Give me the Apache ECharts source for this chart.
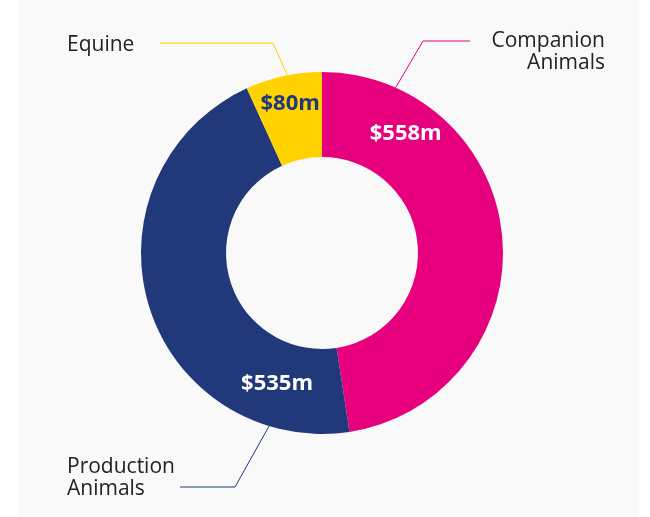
<!DOCTYPE html>
<html>
<head>
<meta charset="utf-8">
<script src="https://cdn.jsdelivr.net/npm/echarts@6/dist/echarts.min.js"></script>
<style>
  html, body { margin: 0; padding: 0; background: #fff; }
  #chart { width: 650px; height: 517px; }
</style>
</head>
<body>
<div id="chart"></div>
<script>
// segment names, values ($m) and colours
const names = ['Companion\nAnimals', 'Production\nAnimals', 'Equine']
const values = [558, 535, 80]
const colors = ['#e6007e', '#21387a', '#ffd200']
const valueLabelColors = ['#ffffff', '#ffffff', '#21387a']

const center = [322, 253]
const innerR = 96
const outerR = 181

// value label spots inside the ring: angle (deg clockwise from top) and radius
const valueSpots = [
  { angle: 35, r: 146 },
  { angle: 199, r: 138 },
  { angle: -12, r: 153 }
]

// where each callout sits: text anchor, elbow, and angle on the ring
const callouts = [
  { x: 605, y: 52, align: 'right', elbow: [[470, 41], [423, 41]], angle: 24 },
  { x: 67, y: 478, align: 'left', elbow: [[180, 487], [235, 487]], angle: 197 },
  { x: 67, y: 45, align: 'left', elbow: [[160, 43], [273, 43]], angle: -11 }
]

const polar = (deg, r) => {
  const a = deg * Math.PI / 180
  return [center[0] + r * Math.sin(a), center[1] - r * Math.cos(a)]
}

const chart = echarts.init(document.getElementById('chart'))

const pieData = names.map((n, i) => ({
  name: n,
  value: values[i],
  itemStyle: { color: colors[i] }
}))

chart.setOption({
  animation: false,
  graphic: [{
    type: 'rect',
    z: -10,
    shape: { x: 19, y: 0, width: 620, height: 517 },
    style: { fill: '#f9f9f9' }
  }],
  series: [
    {
      type: 'pie',
      center: center,
      radius: [innerR, outerR],
      startAngle: 90,
      clockwise: true,
      silent: true,
      itemStyle: { borderWidth: 0 },
      label: {
        show: true,
        position: 'inside',
        fontFamily: 'Open Sans',
        fontWeight: 'bold',
        fontSize: 22,
        overflow: 'none',
        formatter: (p) => '$' + p.value + 'm'
      },
      labelLine: { show: false },
      labelLayout: (params) => {
        const s = valueSpots[params.dataIndex]
        const p = polar(s.angle, s.r)
        return { x: p[0], y: p[1], align: 'center', verticalAlign: 'middle' }
      },
      data: pieData.map((d, i) => ({
        ...d,
        label: { color: valueLabelColors[i] }
      }))
    },
    {
      type: 'pie',
      center: center,
      radius: [innerR, outerR],
      startAngle: 90,
      clockwise: true,
      silent: true,
      z: 3,
      itemStyle: { color: 'rgba(0,0,0,0)', borderWidth: 0 },
      label: {
        show: true,
        position: 'outside',
        fontFamily: 'Open Sans',
        fontSize: 21,
        lineHeight: 22,
        color: '#222222',
        overflow: 'none',
        formatter: '{b}'
      },
      labelLine: { show: true, smooth: false, lineStyle: { width: 1 } },
      labelLayout: (params) => {
        const c = callouts[params.dataIndex]
        return {
          x: c.x,
          y: c.y,
          align: c.align,
          verticalAlign: 'middle',
          labelLinePoints: [polar(c.angle, outerR), c.elbow[1], c.elbow[0]]
        }
      },
      data: names.map((n, i) => ({
        name: n,
        value: values[i],
        labelLine: { lineStyle: { color: colors[i] } }
      }))
    }
  ]
})
</script>
</body>
</html>
